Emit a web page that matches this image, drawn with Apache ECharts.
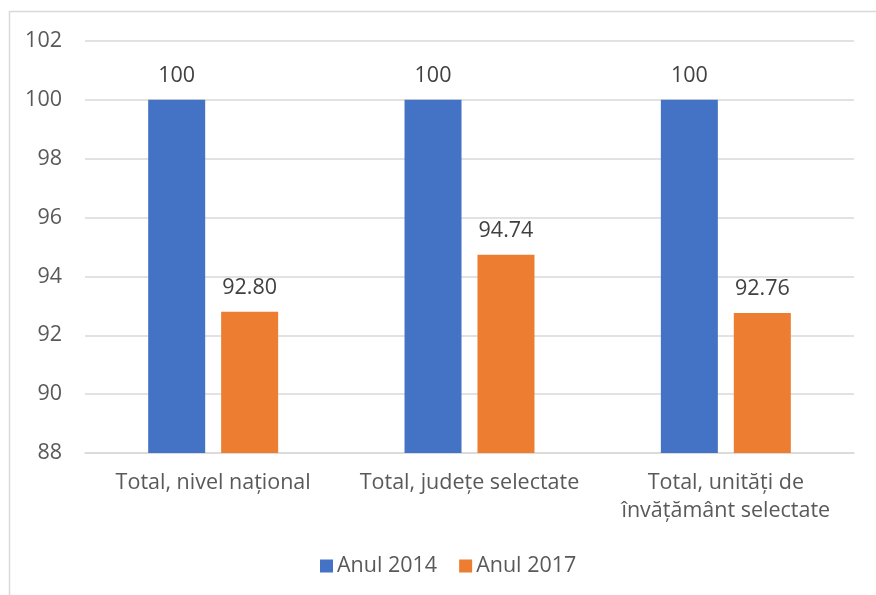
<!DOCTYPE html>
<html>
<head>
<meta charset="utf-8">
<script src="https://cdn.jsdelivr.net/npm/echarts@6/dist/echarts.min.js"></script>
<style>
html,body{margin:0;padding:0;background:#fff;}
#c{width:876px;height:595px;}
</style>
</head>
<body>
<div id="c"></div>
<script>
const categories = ["Total, nivel național", "Total, județe selectate", "Total, unități de învățământ selectate"];
const tickLabels = ["Total, nivel național", "Total, județe selectate", "Total, unități de\nînvățământ selectate"];
const seriesNames = ["Anul 2014", "Anul 2017"];
const values2014 = [100, 100, 100];
const values2017 = [92.80, 94.74, 92.76];
const labels2014 = ["100", "100", "100"];
const labels2017 = ["92.80", "94.74", "92.76"];

const FONT = "Open Sans";
const chart = echarts.init(document.getElementById('c'), null, {renderer: 'canvas'});
chart.setOption({
  animation: false,
  backgroundColor: '#fff',
  textStyle: {fontFamily: FONT},
  graphic: [{
    type: 'polyline',
    shape: {points: [[9.5, 600], [9.5, 11.5], [880, 11.5]]},
    style: {stroke: '#d9d9d9', lineWidth: 1.5, fill: null},
    silent: true
  }],
  legend: {
    data: seriesNames,
    left: 320,
    top: 555,
    padding: 0,
    itemWidth: 13,
    itemHeight: 13,
    itemGap: 22,
    icon: 'rect',
    textStyle: {fontSize: 21.5, color: '#595959', fontFamily: FONT, padding: [0, 0, 0, -1]}
  },
  grid: {left: 85, right: 22, top: 41, bottom: 142, containLabel: false},
  xAxis: {
    type: 'category',
    data: categories,
    axisLine: {show: true, lineStyle: {color: '#d9d9d9', width: 1.5}},
    axisTick: {show: false},
    axisLabel: {
      interval: 0, fontSize: 21.5, color: '#595959', fontFamily: FONT,
      margin: 16, lineHeight: 28,
      formatter: (v, i) => tickLabels[i]
    }
  },
  yAxis: {
    type: 'value',
    min: 88, max: 102, interval: 2,
    axisLine: {show: false},
    axisTick: {show: false},
    splitLine: {lineStyle: {color: '#d9d9d9', width: 1.5}},
    axisLabel: {fontSize: 21.5, color: '#595959', fontFamily: FONT, margin: 23}
  },
  series: [
    {
      name: seriesNames[0], type: 'bar', data: values2014,
      barWidth: 57, barGap: '28%',
      itemStyle: {color: '#4472c4'},
      label: {show: true, position: 'top', distance: 13, fontSize: 21.5, color: '#404040', fontFamily: FONT,
        formatter: p => labels2014[p.dataIndex]}
    },
    {
      name: seriesNames[1], type: 'bar', data: values2017,
      barWidth: 57,
      itemStyle: {color: '#ed7d31'},
      label: {show: true, position: 'top', distance: 13, fontSize: 21.5, color: '#404040', fontFamily: FONT,
        formatter: p => labels2017[p.dataIndex]}
    }
  ]
});
</script>
</body>
</html>
